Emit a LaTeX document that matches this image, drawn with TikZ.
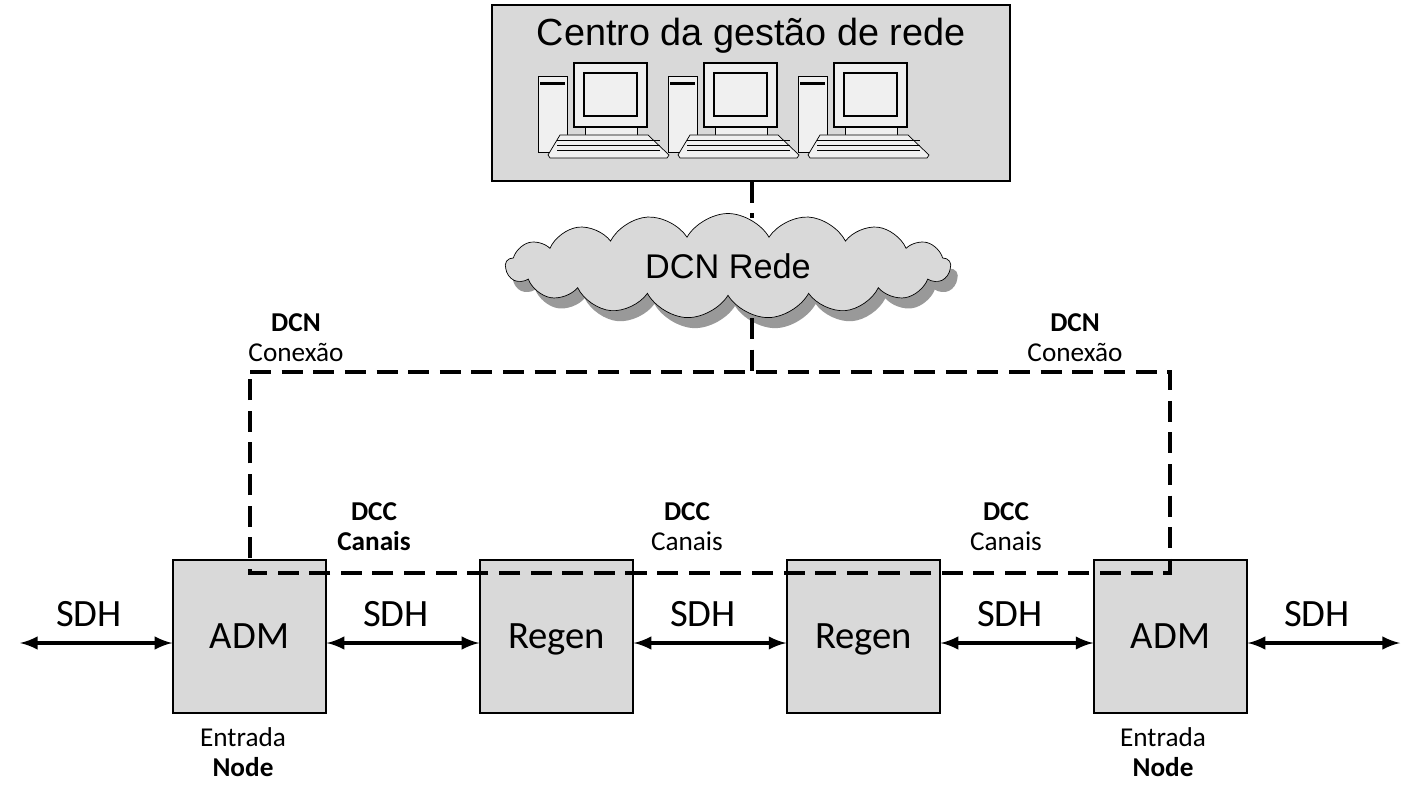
\documentclass[tikz,border=0pt]{standalone}
\usepackage{fontspec}
\setmainfont{Carlito}
\newfontfamily\arialfont{Liberation Sans}
\usetikzlibrary{arrows,shapes.symbols,shadows,positioning}
\definecolor{boxgray}{RGB}{217,217,217}
\definecolor{pcgray}{RGB}{240,240,240}
\tikzset{
        block/.style = {draw, thick, fill=boxgray, minimum width=3.06cm,
            minimum height=3.06cm, text height=14pt, text depth=0pt,
            font=\fontsize{22}{24}\selectfont},
        link/.style = {line width=2.4pt, latex-latex},
        dcn/.style = {line width=2.4pt, dash pattern=on 12pt off 6pt},
        lbl/.style = {font=\fontsize{22}{24}\selectfont},
        small/.style = {font=\fontsize{15.5}{17}\selectfont, align=center},
        computer/.pic = {
            \draw[fill=pcgray] (0,0) rectangle (29,76);
            \fill (2,6) rectangle (27,9);
            \draw[thick, fill=pcgray] (36,-13) rectangle (109,51);
            \draw[thick] (46,-3) rectangle (99,40);
            \draw[fill=pcgray] (47,51) rectangle (99,59);
            \draw[fill=pcgray] (22,59) -- (110,59) -- (131,79) -- (129,82)
                -- (12,82) -- (10,79) -- cycle;
            \foreach \k in {64,69,74} \draw (19,\k) -- (122,\k);
        }
    }
\begin{document}
\begin{tikzpicture}[x=0.02cm, y=-0.02cm]
\useasboundingbox (0,0) rectangle (1420,797);

% management centre
\node[draw, thick, fill=boxgray, minimum width=10.36cm, minimum height=3.52cm]
    (centro) at (751,93) {};
\node[font=\arialfont\fontsize{21.5}{23}\selectfont] (titulo) at (751,36)
    {Centro da gestão de rede};
\foreach \i in {0,1,2}
    \pic at (538+130*\i,76) {computer};

% DCN cloud
\node[cloud, cloud puffs=17, cloud puff arc=120, aspect=5, draw, fill=boxgray,
    minimum width=8.9cm, minimum height=2.1cm, inner sep=0pt,
    drop shadow={shadow xshift=4pt, shadow yshift=-6pt, fill=gray!80, opacity=1},
    font=\arialfont\fontsize{19.5}{21}\selectfont] (cloud) at (728,266) {DCN Rede};

% network elements
\node[block] (adm1) at (249.5,636.5) {ADM};
\node[block] (reg1) at (556.5,636.5) {Regen};
\node[block] (reg2) at (863.5,636.5) {Regen};
\node[block] (adm2) at (1170.5,636.5) {ADM};

\coordinate (inL) at (20,643);
\coordinate (outR) at (1400,643);
\draw[link] (inL) -- (adm1.west |- inL);
\draw[link] (adm1.east |- inL) -- (reg1.west |- inL);
\draw[link] (reg1.east |- inL) -- (reg2.west |- inL);
\draw[link] (reg2.east |- inL) -- (adm2.west |- inL);
\draw[link] (adm2.east |- inL) -- (outR);

\foreach \x in {89,396,703,1010,1317}
    \node[lbl] at (\x,614) {SDH};

% DCN connections
\coordinate (jn) at (752,372);
\coordinate (cl) at (250,372);
\coordinate (cr) at (1170,372);
\coordinate (bl) at (250,573);
\coordinate (br) at (1170,573);
\draw[dcn] (centro.south -| jn) -- (752,218);
\draw[dcn] (752,318) -- (jn);
\draw[dcn] (cl) -- (cr) -- (br) -- (bl) -- cycle;

\node[small] at (296,338) {\textbf{DCN}\\Conexão};
\node[small] at (1075,338) {\textbf{DCN}\\Conexão};
\node[small] at (374,527) {\textbf{DCC}\\\textbf{Canais}};
\node[small] at (687,527) {\textbf{DCC}\\Canais};
\node[small] at (1006,527) {\textbf{DCC}\\Canais};
\node[small] at (243,752) {Entrada\\\textbf{Node}};
\node[small] at (1163,752) {Entrada\\\textbf{Node}};
\end{tikzpicture}
\end{document}
